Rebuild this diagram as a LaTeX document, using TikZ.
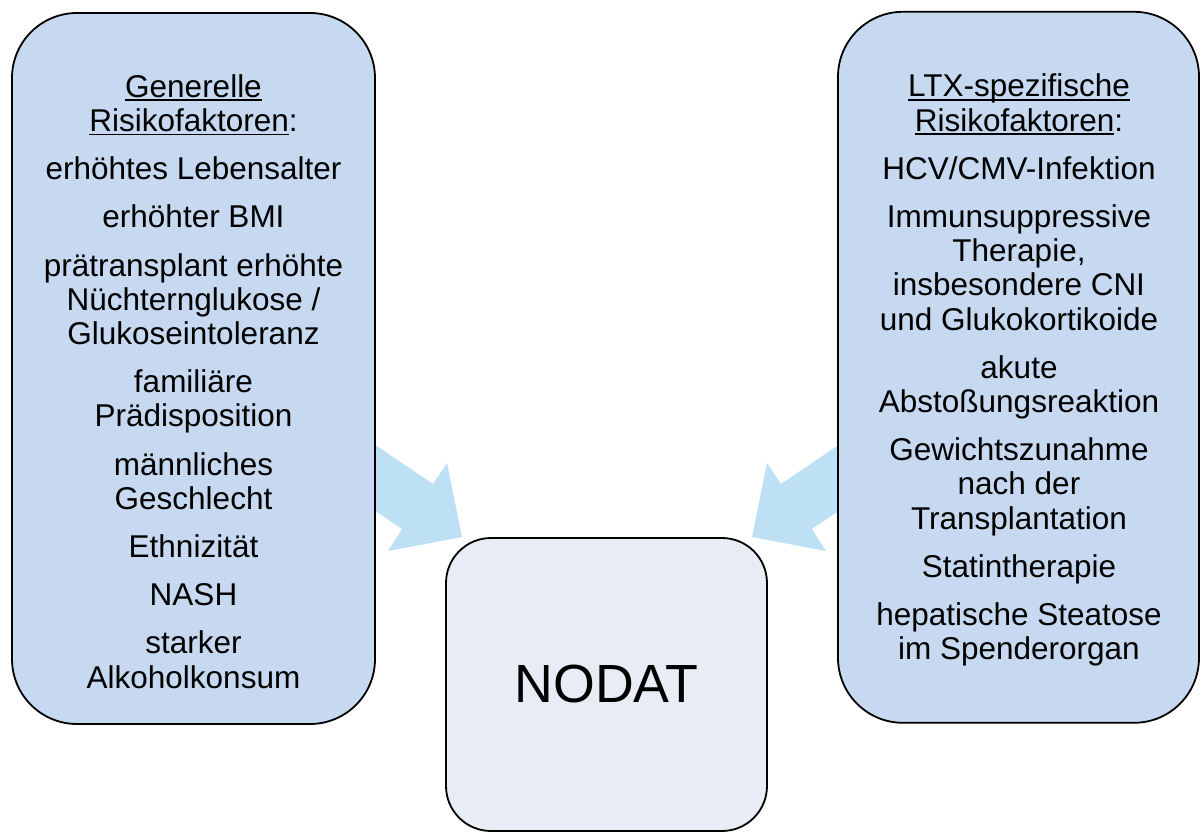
\documentclass[tikz,border=0pt]{standalone}
\usepackage{fontspec}
\setmainfont{Liberation Sans}
\definecolor{boxblue}{HTML}{C6D9F0}
\definecolor{nodatfill}{HTML}{E8EDF5}
\definecolor{arrowblue}{HTML}{BEE0F5}
\newcommand\myul[1]{\setbox0=\hbox{#1}\rlap{\rule[-3.6pt]{\wd0}{1.5pt}}\box0}
\tikzset{
  riskbox/.style={draw=black, line width=1.8pt, fill=boxblue, rounded corners=65pt, inner sep=0pt},
  risktext/.style={align=center, inner sep=0pt, anchor=north, text=black,
    font=\fontsize{31.5}{34.2}\selectfont,
    execute at begin node={\setlength{\lineskiplimit}{-100pt}}},
  blockarrow/.style={fill=arrowblue},
}
\begin{document}
\begin{tikzpicture}[x=1pt,y=-1pt]
\useasboundingbox (0,0) rectangle (1200,832);
% block arrows (tails hidden behind the boxes)
\coordinate (ltip) at (462,537);
\coordinate (rtip) at (752,537);
\fill[blockarrow] (309,400) -- (433,484) -- (447,463) -- (ltip) -- (388,551) -- (402,529) -- (278,445) -- cycle;
\fill[blockarrow] (905,400) -- (781,484) -- (767,463) -- (rtip) -- (826,551) -- (812,529) -- (936,445) -- cycle;
% boxes
\node[riskbox, minimum width=363pt, minimum height=711pt] (L) at (193.5,368.5) {};
\node[riskbox, minimum width=361pt, minimum height=711pt] (R) at (1018.5,367.3) {};
\node[riskbox, fill=nodatfill, rounded corners=45pt, minimum width=321pt, minimum height=293pt,
      font=\fontsize{53.7}{60}\selectfont] (N) at (606.5,684.5) {NODAT};
% texts
\node[risktext] (Ltext) at (193.5,72) {\rule{0pt}{25pt}\myul{Generelle}\\
  \myul{Risikofaktoren}:\\[14pt]
  erhöhtes Lebensalter\\[14pt]
  erhöhter BMI\\[14pt]
  prätransplant erhöhte\\ Nüchternglukose /\\ Glukoseintoleranz\\[14pt]
  familiäre\\ Prädisposition\\[14pt]
  männliches\\ Geschlecht\\[14pt]
  Ethnizität\\[14pt]
  NASH\\[14pt]
  starker\\ Alkoholkonsum};
\node[risktext] (Rtext) at (1019,71.7) {\rule{0pt}{25pt}\myul{LTX-spezifische}\\
  \myul{Risikofaktoren}:\\[14pt]
  HCV/CMV-Infektion\\[14pt]
  Immunsuppressive\\ Therapie,\\ insbesondere CNI\\ und Glukokortikoide\\[14pt]
  akute\\ Abstoßungsreaktion\\[14pt]
  Gewichtszunahme\\ nach der\\ Transplantation\\[14pt]
  Statintherapie\\[14pt]
  hepatische Steatose\\ im Spenderorgan};
\end{tikzpicture}
\end{document}
